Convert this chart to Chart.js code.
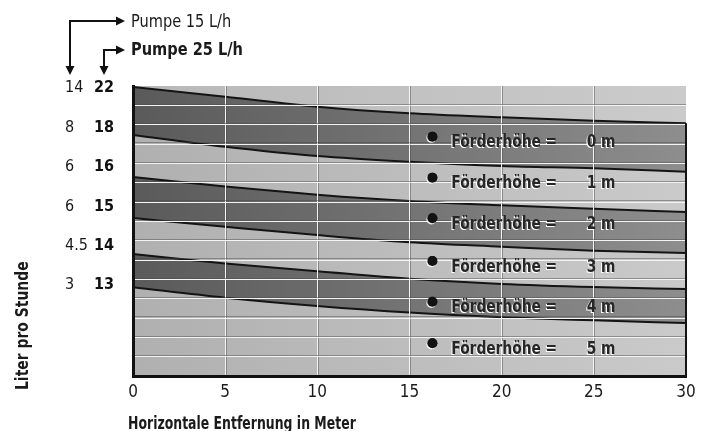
<!DOCTYPE html>
<html lang="de">
<head>
<meta charset="utf-8">
<title>Förderhöhe</title>
<script src="https://cdn.jsdelivr.net/npm/chart.js@4/dist/chart.umd.min.js"></script>
<style>
  html, body { margin: 0; padding: 0; background: #fff; }
</style>
</head>
<body>
<canvas id="chart" width="706" height="431"></canvas>
<script>
'use strict';

const FONT = "'DejaVu Sans Condensed', 'Liberation Sans Narrow', 'DejaVu Sans', sans-serif";

// horizontal distance in metres
const distances = [0, 5, 10, 15, 20, 25, 30];

// band edges, in grid rows (0 = bottom, 15 = top)
const edge0 = [14.95, 14.45, 13.93, 13.59, 13.38, 13.2, 13.07];
const edge1 = [12.47, 11.86, 11.38, 11.08, 10.86, 10.74, 10.57];
const edge2 = [10.29, 9.8, 9.38, 9.05, 8.83, 8.65, 8.48];
const edge3 = [8.17, 7.72, 7.29, 6.92, 6.69, 6.48, 6.36];
const edge4 = [6.31, 5.82, 5.42, 5.03, 4.76, 4.6, 4.5];
const edge5 = [4.59, 4.05, 3.62, 3.28, 3.04, 2.88, 2.74];

// left tick labels (L/h) and the rows they sit on
const tickRows = [14.88, 12.81, 10.8, 8.76, 6.74, 4.74];
const pump25Labels = ['22', '18', '16', '15', '14', '13'];
const pump15Labels = ['14', '8', '6', '6', '4.5', '3'];

// Förderhöhe markers
const heads = [0, 1, 2, 3, 4, 5];
const headX = [16.24, 16.24, 16.24, 16.24, 16.24, 16.24];
const headRows = [12.38, 10.26, 8.16, 5.95, 3.84, 1.69];

const gridRows = [1, 2, 3, 4, 5, 6, 7, 8, 9, 10, 11, 12, 13, 14];

function toPoints(edge) {
  return distances.map((d, i) => ({ x: d, y: edge[i] }));
}

function hGradient(chart, from, to) {
  const a = chart.chartArea;
  if (!a) return from;
  const g = chart.ctx.createLinearGradient(a.left, 0, a.right, 0);
  g.addColorStop(0, from);
  g.addColorStop(1, to);
  return g;
}

const dark = c => hGradient(c.chart, '#5a5a5a', '#8e8e8e');
const light = c => hGradient(c.chart, '#b0b0b0', '#cacaca');

function band(edge, fill, color) {
  return {
    data: toPoints(edge),
    fill: fill,
    backgroundColor: color,
    borderColor: '#141414',
    borderWidth: 2,
    pointRadius: 0,
    cubicInterpolationMode: 'monotone'
  };
}

// condensed-looking text: draw with a horizontal squeeze
function squeezed(ctx, text, x, y, font, sx, align) {
  ctx.save();
  ctx.font = font;
  ctx.textAlign = align || 'left';
  ctx.translate(x, y);
  ctx.scale(sx, 1);
  ctx.fillText(text, 0, 0);
  ctx.restore();
}

const plotBackground = {
  id: 'plotBackground',
  beforeDraw(chart) {
    const { ctx, chartArea: a } = chart;
    ctx.save();
    ctx.fillStyle = hGradient(chart, '#b8b8b8', '#cbcbcb');
    ctx.fillRect(a.left, a.top, a.right - a.left, a.bottom - a.top);
    ctx.restore();
  }
};

function arrowHead(ctx, x, y, dir) {
  ctx.beginPath();
  if (dir === 'down') {
    ctx.moveTo(x - 4.5, y - 9);
    ctx.lineTo(x + 4.5, y - 9);
  } else {
    ctx.moveTo(x - 9, y - 4.5);
    ctx.lineTo(x - 9, y + 4.5);
  }
  ctx.lineTo(x, y);
  ctx.closePath();
  ctx.fill();
}

function elbow(ctx, xCorner, yCorner, xTip, yTip) {
  ctx.beginPath();
  ctx.moveTo(xTip - 8, yCorner);
  ctx.lineTo(xCorner, yCorner);
  ctx.lineTo(xCorner, yTip - 8);
  ctx.stroke();
  arrowHead(ctx, xTip, yCorner, 'right');
  arrowHead(ctx, xCorner, yTip, 'down');
}

const annotations = {
  id: 'annotations',
  afterDraw(chart) {
    const { ctx, chartArea: a } = chart;
    ctx.save();

    // right edge of the plot below the top curve
    const topCurve = chart.getDatasetMeta(0).data;
    const last = topCurve[topCurve.length - 1];
    ctx.strokeStyle = '#141414';
    ctx.lineWidth = 2;
    ctx.beginPath();
    ctx.moveTo(a.right, last.y);
    ctx.lineTo(a.right, a.bottom);
    ctx.stroke();

    // markers + labels
    const meta = chart.getDatasetMeta(6);
    ctx.textBaseline = 'middle';
    const lf = 'bold 18px ' + FONT;
    meta.data.forEach((pt, i) => {
      // small white highlight under each dot
      ctx.fillStyle = 'rgba(255,255,255,0.85)';
      ctx.beginPath();
      ctx.arc(pt.x - 1, pt.y + 1.2, 5, 0, Math.PI * 2);
      ctx.fill();
      pt.draw(ctx);
      const ty = pt.y + 6;
      ctx.fillStyle = '#ffffff';
      squeezed(ctx, 'Förderhöhe =', pt.x + 18, ty + 1, lf, 0.85);
      squeezed(ctx, heads[i] + ' m', pt.x + 182, ty + 1, lf, 0.85, 'right');
      ctx.fillStyle = '#262626';
      squeezed(ctx, 'Förderhöhe =', pt.x + 19, ty, lf, 0.85);
      squeezed(ctx, heads[i] + ' m', pt.x + 183, ty, lf, 0.85, 'right');
    });

    // pump arrows and captions
    ctx.strokeStyle = '#111';
    ctx.fillStyle = '#111';
    ctx.lineWidth = 2;
    elbow(ctx, 70, 21, 125, 75);
    elbow(ctx, 104, 50, 125, 75);
    ctx.fillStyle = '#1a1a1a';
    squeezed(ctx, 'Pumpe 15 L/h', 131, 22, '18px ' + FONT, 0.9);
    squeezed(ctx, 'Pumpe 25 L/h', 131, 50, 'bold 18px ' + FONT, 0.9);

    // axis titles
    ctx.textBaseline = 'alphabetic';
    squeezed(ctx, 'Horizontale Entfernung in Meter', 128, 429, 'bold 18px ' + FONT, 0.77);
    ctx.translate(28, a.bottom + 14);
    ctx.rotate(-Math.PI / 2);
    squeezed(ctx, 'Liter pro Stunde', 0, 0, 'bold 18px ' + FONT, 0.86);
    ctx.restore();
  }
};

const chart = new Chart(document.getElementById('chart'), {
  type: 'line',
  data: {
    datasets: [
      band(edge0, '+1', dark),
      band(edge1, '+1', light),
      band(edge2, '+1', dark),
      band(edge3, '+1', light),
      band(edge4, '+1', dark),
      band(edge5, 'start', light),
      {
        type: 'scatter',
        data: headX.map((x, i) => ({ x: x, y: headRows[i] })),
        pointRadius: 5,
        pointBackgroundColor: '#121212',
        pointBorderWidth: 0,
        showLine: false,
        fill: false
      }
    ]
  },
  options: {
    responsive: false,
    animation: false,
    layout: { padding: { left: 65, top: 86, right: 20, bottom: 0 } },
    plugins: {
      legend: { display: false },
      tooltip: { enabled: false },
      filler: { drawTime: 'beforeDatasetsDraw' }
    },
    scales: {
      x: {
        type: 'linear',
        position: 'bottom',
        min: 0,
        max: 30,
        afterFit: s => { s.height = 55; },
        afterBuildTicks: s => { s.ticks = distances.map(v => ({ value: v })); },
        ticks: { padding: 6, maxRotation: 0, color: '#1a1a1a', font: { family: FONT, size: 17 } },
        grid: {
          z: 1,
          drawTicks: false,
          lineWidth: 1,
          color: c => (c.tick && c.tick.value > 0 && c.tick.value < 30) ? '#f4f4f4' : 'rgba(0,0,0,0)'
        },
        border: { z: 2, color: '#111', width: 3 }
      },
      xShade: {
        type: 'linear',
        position: 'bottom',
        min: -0.055,
        max: 29.945,
        afterFit: s => { s.height = 0; },
        afterBuildTicks: s => { s.ticks = distances.slice(1, -1).map(v => ({ value: v })); },
        ticks: { display: false },
        grid: { z: 1, drawTicks: false, color: 'rgba(70,70,70,0.45)' },
        border: { display: false }
      },
      y: {
        type: 'linear',
        position: 'left',
        min: 0,
        max: 15,
        weight: 0,
        afterFit: s => { s.width = 0; },
        ticks: { display: false, stepSize: 1 },
        grid: {
          z: 1,
          drawTicks: false,
          color: c => (c.tick && c.tick.value > 0 && c.tick.value < 15) ? '#f4f4f4' : 'rgba(0,0,0,0)'
        },
        border: { z: 2, color: '#111', width: 3 }
      },
      yShade: {
        type: 'linear',
        position: 'left',
        min: -0.052,
        max: 14.948,
        weight: 0,
        afterFit: s => { s.width = 0; },
        afterBuildTicks: s => { s.ticks = gridRows.map(v => ({ value: v })); },
        ticks: { display: false },
        grid: { z: 1, drawTicks: false, color: 'rgba(70,70,70,0.45)' },
        border: { display: false }
      },
      yBold: {
        type: 'linear',
        position: 'left',
        min: 0,
        max: 15,
        weight: 1,
        afterFit: s => { s.width = 38; },
        afterBuildTicks: s => { s.ticks = tickRows.map(v => ({ value: v })); },
        ticks: {
          crossAlign: 'near',
          padding: 19,
          color: '#111',
          font: { family: FONT, size: 16, weight: 'bold' },
          callback: (v, i) => pump25Labels[i]
        },
        grid: { display: false, drawTicks: false },
        border: { display: false }
      },
      yNorm: {
        type: 'linear',
        position: 'left',
        min: 0,
        max: 15,
        weight: 2,
        afterFit: s => { s.width = 30; },
        afterBuildTicks: s => { s.ticks = tickRows.map(v => ({ value: v })); },
        ticks: {
          crossAlign: 'far',
          color: '#1a1a1a',
          font: { family: FONT, size: 16 },
          callback: (v, i) => pump15Labels[i]
        },
        grid: { display: false, drawTicks: false },
        border: { display: false }
      }
    }
  },
  plugins: [plotBackground, annotations]
});
</script>
</body>
</html>
